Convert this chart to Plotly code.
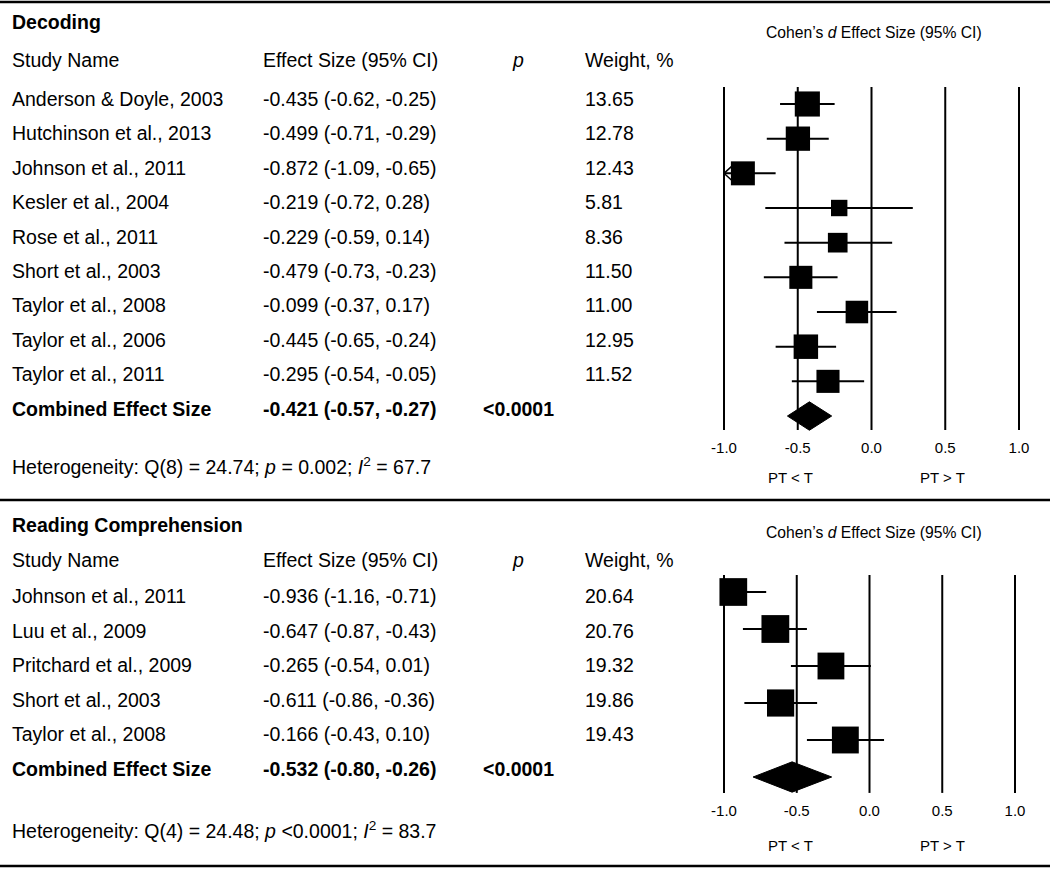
import plotly.graph_objects as go

W, H = 1050, 869

# ---------------- data ----------------
dec_names = ["Anderson & Doyle, 2003", "Hutchinson et al., 2013", "Johnson et al., 2011",
             "Kesler et al., 2004", "Rose et al., 2011", "Short et al., 2003",
             "Taylor et al., 2008", "Taylor et al., 2006", "Taylor et al., 2011"]
dec_es = [-0.435, -0.499, -0.872, -0.219, -0.229, -0.479, -0.099, -0.445, -0.295]
dec_lo = [-0.62, -0.71, -1.09, -0.72, -0.59, -0.73, -0.37, -0.65, -0.54]
dec_hi = [-0.25, -0.29, -0.65, 0.28, 0.14, -0.23, 0.17, -0.24, -0.05]
dec_w = [13.65, 12.78, 12.43, 5.81, 8.36, 11.50, 11.00, 12.95, 11.52]
dec_comb = [-0.421, -0.57, -0.27]
dec_comb_p = "<0.0001"
dec_het = "Heterogeneity: Q(8) = 24.74; <i>p</i> = 0.002; <i>I</i><sup>2</sup> = 67.7"

rc_names = ["Johnson et al., 2011", "Luu et al., 2009", "Pritchard et al., 2009",
            "Short et al., 2003", "Taylor et al., 2008"]
rc_es = [-0.936, -0.647, -0.265, -0.611, -0.166]
rc_lo = [-1.16, -0.87, -0.54, -0.86, -0.43]
rc_hi = [-0.71, -0.43, 0.01, -0.36, 0.10]
rc_w = [20.64, 20.76, 19.32, 19.86, 19.43]
rc_comb = [-0.532, -0.80, -0.26]
rc_comb_p = "<0.0001"
rc_het = "Heterogeneity: Q(4) = 24.48; <i>p</i> &lt;0.0001; <i>I</i><sup>2</sup> = 83.7"

tick_vals = [-1.0, -0.5, 0.0, 0.5, 1.0]
tick_text = ["-1.0", "-0.5", "0.0", "0.5", "1.0"]
headers = ["Study Name", "Effect Size (95% CI)", "<i>p</i>", "Weight, %"]
axis_title = "Cohen\u2019s <i>d</i> Effect Size (95% CI)"
side_labels = ["PT &lt; T", "PT &gt; T"]

FONT = "Liberation Sans, Arial, Helvetica, sans-serif"
FS = 19.5

fig = go.Figure()
annotations = []
shapes = []


def px(x):
    return x / W


def py(y):
    return 1 - y / H


def txt(x, y, s, size=FS, bold=False, anchor="left"):
    if bold:
        s = "<b>" + s + "</b>"
    if anchor == "left":
        x -= 2
    annotations.append(dict(x=px(x), y=py(y), xref="paper", yref="paper", text=s,
                            showarrow=False, xanchor=anchor, yanchor="middle",
                            font=dict(family=FONT, size=size, color="black")))


def panel(title, names, es, lo, hi, w, comb, comb_p, het, ax, geom):
    xa = "x" if ax == 1 else "x%d" % ax
    ya = "y" if ax == 1 else "y%d" % ax
    n = len(names)
    # text table
    txt(12, geom["title_y"], title, bold=True)
    hy = geom["header_y"]
    txt(12, hy, headers[0])
    txt(263, hy, headers[1])
    txt(518, hy, headers[2], anchor="center")
    txt(585, hy, headers[3])
    for i in range(n):
        yy = geom["row0"] + geom["rstep"] * i
        txt(12, yy, names[i])
        txt(263, yy, "%.3f (%.2f, %.2f)" % (es[i], lo[i], hi[i]))
        txt(585, yy, "%.2f" % w[i])
    cy = geom["row0"] + geom["rstep"] * n
    txt(12, cy, "Combined Effect Size", bold=True)
    txt(263, cy, "%.3f (%.2f, %.2f)" % (comb[0], comb[1], comb[2]), bold=True)
    txt(518, cy, comb_p.replace("<", "&lt;"), bold=True, anchor="center")
    txt(12, geom["het_y"], het)
    txt(874, geom["axtitle_y"], axis_title, size=15.7, anchor="center")
    txt(790, geom["side_y"], side_labels[0], size=15, anchor="center")
    txt(942, geom["side_y"], side_labels[1], size=15, anchor="center")

    # vertical reference lines
    for v in tick_vals:
        shapes.append(dict(type="line", xref=xa, yref=ya, x0=v, x1=v,
                           y0=geom["vl0"], y1=geom["vl1"],
                           line=dict(color="black", width=2)))

    # CI lines (clipped to the axis at -1, with an open arrow where clipped)
    xs, ys = [], []
    ax_x, ax_y = [], []
    for i in range(n):
        l = max(lo[i], tick_vals[0])
        h = min(hi[i], tick_vals[-1])
        xs += [l, h, None]
        ys += [i, i, None]
        if lo[i] < tick_vals[0]:
            ax_x += [l + geom["adx"], l, l + geom["adx"], None]
            ax_y += [i - geom["ady"], i, i + geom["ady"], None]
    fig.add_trace(go.Scatter(x=xs, y=ys, mode="lines", line=dict(color="black", width=2),
                             xaxis=xa, yaxis=ya, hoverinfo="skip", cliponaxis=False))
    if ax_x:
        fig.add_trace(go.Scatter(x=ax_x, y=ax_y, mode="lines",
                                 line=dict(color="black", width=1.5),
                                 xaxis=xa, yaxis=ya, hoverinfo="skip", cliponaxis=False))
    fig.add_trace(go.Scatter(x=es, y=list(range(n)), mode="markers",
                             marker=dict(symbol="square", color="black", opacity=1,
                                         size=[geom["k"] * (v ** 0.5) for v in w],
                                         line=dict(width=0)),
                             xaxis=xa, yaxis=ya, cliponaxis=False))
    hd = geom["dh"]
    fig.add_trace(go.Scatter(x=[comb[1], comb[0], comb[2], comb[0], comb[1]],
                             y=[n, n - hd, n, n + hd, n], mode="lines", fill="toself",
                             fillcolor="black", line=dict(color="black", width=1),
                             xaxis=xa, yaxis=ya, cliponaxis=False))


top = dict(title_y=22, header_y=60, row0=99, rstep=34.4, het_y=466, axtitle_y=33,
           side_y=478, vl0=-0.49, vl1=9.4, k=6.8, dh=0.41, adx=0.065, ady=0.25)
bot = dict(title_y=525, header_y=560, row0=596, rstep=34.6, het_y=830, axtitle_y=532,
           side_y=845, vl0=-0.46, vl1=5.43, k=6.1, dh=0.41, adx=0.065, ady=0.23)

panel("Decoding", dec_names, dec_es, dec_lo, dec_hi, dec_w, dec_comb, dec_comb_p, dec_het, 1, top)
panel("Reading Comprehension", rc_names, rc_es, rc_lo, rc_hi, rc_w, rc_comb, rc_comb_p, rc_het, 2, bot)

# horizontal rules
for yy in [2, 500, 866]:
    shapes.append(dict(type="line", xref="paper", yref="paper", x0=0, x1=1,
                       y0=py(yy), y1=py(yy), line=dict(color="black", width=2.5)))

xcommon = dict(range=[-1.1, 1.1], tickvals=tick_vals, ticktext=tick_text, showgrid=False,
               zeroline=False, showline=False, ticks="", fixedrange=True,
               tickfont=dict(family=FONT, size=15, color="black"))
ycommon = dict(showticklabels=False, showgrid=False, zeroline=False, showline=False,
               ticks="", fixedrange=True)

t_ppu = (1019 - 724) / 2
b_ppu = (1015 - 724) / 2
fig.update_layout(
    width=W, height=H, margin=dict(l=0, r=0, t=0, b=0),
    paper_bgcolor="white", plot_bgcolor="white", showlegend=False,
    xaxis=dict(domain=[px(724 - 0.1 * t_ppu), px(1019 + 0.1 * t_ppu)], anchor="y", **xcommon),
    yaxis=dict(domain=[py(104 + 9.6 * 34.67), py(104 - 0.6 * 34.67)], range=[9.6, -0.6],
               anchor="x", **ycommon),
    xaxis2=dict(domain=[px(724 - 0.1 * b_ppu), px(1015 + 0.1 * b_ppu)], anchor="y2", **xcommon),
    yaxis2=dict(domain=[py(592 + 5.62 * 37), py(592 - 0.6 * 37)], range=[5.62, -0.6],
                anchor="x2", **ycommon),
    annotations=annotations, shapes=shapes,
)

fig.write_html("out.html", config={"displayModeBar": False},
               post_script="document.body.style.margin='0';document.body.style.overflow='hidden';")
